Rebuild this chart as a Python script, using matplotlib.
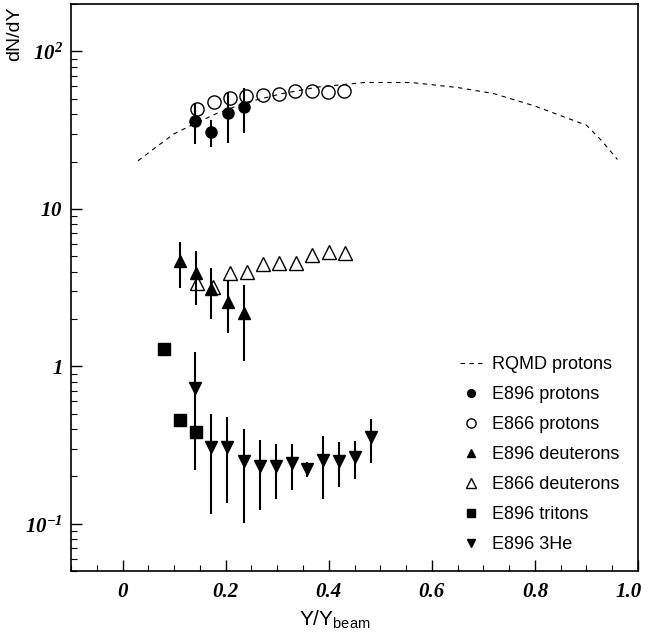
import matplotlib
matplotlib.use("Agg")
import matplotlib.pyplot as plt
import matplotlib.transforms as mtransforms
from matplotlib.ticker import MultipleLocator, LogLocator, NullFormatter

plt.rcParams["font.family"] = "Liberation Sans"
plt.rcParams["mathtext.fontset"] = "custom"
plt.rcParams["mathtext.rm"] = "Liberation Serif:italic:bold"
plt.rcParams["mathtext.it"] = "Liberation Serif:italic:bold"
plt.rcParams["mathtext.sf"] = "Liberation Sans"

# RQMD protons (dashed curve)
rqmd_x = [0.03, 0.06, 0.10, 0.13, 0.18, 0.24, 0.31, 0.38, 0.47, 0.56, 0.65, 0.72, 0.80, 0.86, 0.90, 0.93, 0.96]
rqmd_y = [20.2, 24.0, 30.0, 33.5, 40.0, 47.5, 54.0, 59.5, 63.5, 63.5, 59.0, 54.0, 45.0, 38.0, 34.0, 27.0, 20.6]

# E896 protons
p896_x = [0.141, 0.172, 0.204, 0.235]
p896_y = [36.3, 30.9, 40.6, 44.5]
p896_err = [10.5, 6.0, 14.5, 14.0]

# E866 protons
p866_x = [0.145, 0.177, 0.208, 0.240, 0.272, 0.304, 0.335, 0.367, 0.399, 0.430]
p866_y = [43.1, 48.0, 50.6, 51.8, 52.6, 53.6, 56.0, 56.0, 55.5, 55.7]

# E896 deuterons
d896_x = [0.111, 0.142, 0.172, 0.204, 0.235]
d896_y = [4.64, 3.92, 3.10, 2.58, 2.18]
d896_err = [1.5, 1.45, 1.1, 0.95, 1.1]

# E866 deuterons
d866_x = [0.145, 0.176, 0.209, 0.241, 0.273, 0.304, 0.337, 0.368, 0.400, 0.431]
d866_y = [3.37, 3.17, 3.90, 3.95, 4.47, 4.55, 4.55, 5.07, 5.29, 5.22]

# E896 tritons
t896_x = [0.080, 0.111, 0.142]
t896_y = [1.29, 0.459, 0.381]
t896_err = [0.07, 0.0, 0.0]

# E896 3He
he896_x = [0.1415, 0.172, 0.203, 0.236, 0.266, 0.297, 0.328, 0.358, 0.389, 0.420, 0.451, 0.482]
he896_y = [0.729, 0.306, 0.306, 0.252, 0.233, 0.233, 0.243, 0.222, 0.253, 0.252, 0.264, 0.354]
he896_err = [0.51, 0.19, 0.17, 0.15, 0.11, 0.09, 0.08, 0.025, 0.11, 0.08, 0.07, 0.11]

x_ticks = [0, 0.2, 0.4, 0.6, 0.8, 1.0]
x_labels = ["0", "0.2", "0.4", "0.6", "0.8", "1.0"]
y_ticks = [0.1, 1, 10, 100]
y_labels = [r"$10^{-1}$", r"$1$", r"$10$", r"$10^{2}$"]

fig = plt.figure(figsize=(6.49, 6.39), dpi=100)
ax = fig.add_axes([0.1094, 0.106, 0.8737, 0.8877])

ax.plot(rqmd_x, rqmd_y, color="black", ls=(0, (4, 4)), lw=0.8, label="RQMD protons")

ax.plot(p866_x, p866_y, ls="none", marker="o", ms=9.5, mfc="none", mec="black", mew=1.0,
        label="E866 protons")
ax.plot(d866_x, d866_y, ls="none", marker="^", ms=9.5, mfc="none", mec="black", mew=1.0,
        label="E866 deuterons")

bar_kw = dict(fmt="none", ecolor="black", elinewidth=1.5, capsize=0)
ax.errorbar(p896_x, p896_y, yerr=p896_err, **bar_kw)
ax.errorbar(d896_x, d896_y, yerr=d896_err, **bar_kw)
ax.errorbar(t896_x, t896_y, yerr=t896_err, **bar_kw)
ax.errorbar(he896_x, he896_y, yerr=he896_err, **bar_kw)

ax.plot(p896_x, p896_y, ls="none", marker="o", ms=8, color="black", label="E896 protons")
ax.plot(d896_x, d896_y, ls="none", marker="^", ms=8, color="black", label="E896 deuterons")
ax.plot(t896_x, t896_y, ls="none", marker="s", ms=8, color="black", label="E896 tritons")
ax.plot(he896_x, he896_y, ls="none", marker="v", ms=8, color="black", label="E896 3He")

ax.set_xlim(-0.1, 1.0)
ax.set_yscale("log")
ax.set_ylim(0.05, 200)

ax.set_xticks(x_ticks)
ax.set_xticklabels(x_labels, fontfamily="Liberation Serif", fontstyle="italic",
                   fontweight="bold", fontsize=15)
ax.xaxis.set_minor_locator(MultipleLocator(0.05))
ax.set_yticks(y_ticks)
ax.set_yticklabels(y_labels, fontsize=15)
ax.yaxis.set_minor_locator(LogLocator(base=10, subs=range(2, 10)))
ax.yaxis.set_minor_formatter(NullFormatter())

ax.tick_params(which="major", direction="in", length=8, width=1.0, pad=8)
ax.tick_params(which="minor", direction="in", length=4, width=0.8)
ax.tick_params(axis="y", which="major", pad=6)
for sp in ax.spines.values():
    sp.set_linewidth(1.2)

# keep the last x label inside the figure, as in the reference
last = ax.get_xticklabels()[-1]
last.set_transform(last.get_transform() + mtransforms.ScaledTranslation(-9 / 100, 0, fig.dpi_scale_trans))

fig.text(15 / 649, 1 - 34 / 639, "dN/dY", rotation=90, ha="center", va="center", fontsize=14)
fig.text(335 / 649, 1 - 619 / 639, r"Y/Y$_{\mathsf{beam}}$", ha="center", va="center", fontsize=15)

handles, labels = ax.get_legend_handles_labels()
order = ["RQMD protons", "E896 protons", "E866 protons", "E896 deuterons",
         "E866 deuterons", "E896 tritons", "E896 3He"]
hmap = dict(zip(labels, handles))
ax.legend([hmap[k] for k in order], order, loc="upper left",
          bbox_to_anchor=(460 / 649, 1 - 356 / 639), bbox_transform=fig.transFigure,
          frameon=False, fontsize=13, markerscale=0.7, handlelength=1.2,
          handletextpad=0.6, labelspacing=0.72, borderpad=0, borderaxespad=0)

fig.savefig("out.png", dpi=100)
